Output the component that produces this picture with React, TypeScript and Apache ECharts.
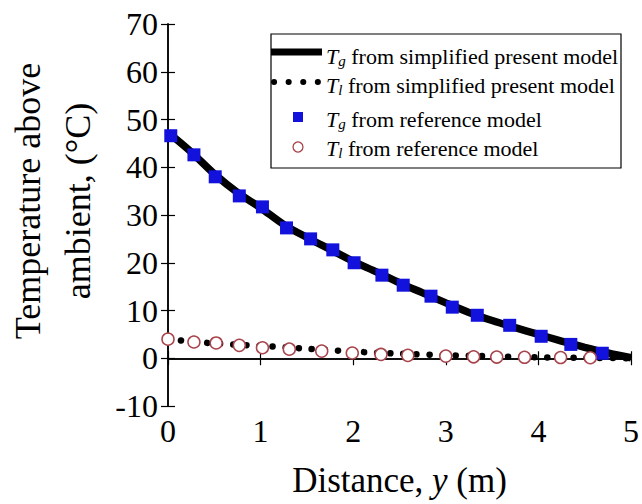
import React, { useEffect, useRef } from "react";
import * as echarts from "echarts";

const FONT = "Liberation Serif, Times New Roman, serif";

// Axis ranges / ticks
const xMin = 0;
const xMax = 5;
const xStep = 1;
const yMin = -10;
const yMax = 70;
const yStep = 10;

// Tg from simplified present model (solid line)
const xModelG = [0, 0.25, 0.5, 0.75, 1, 1.25, 1.5, 1.75, 2, 2.25, 2.5, 2.75, 3, 3.25, 3.5, 3.75, 4, 4.25, 4.5, 4.75, 5];
const yModelG = [47.3, 43.2, 38.6, 34.7, 31.5, 28.0, 25.3, 22.8, 20.3, 18.1, 15.8, 13.7, 11.6, 9.6, 7.9, 6.4, 5.0, 3.6, 2.3, 1.1, 0.1];

// Tl from simplified present model (dotted line)
const xModelL = [0, 0.5, 1, 1.5, 2, 2.5, 3, 3.5, 4, 4.5, 5];
const yModelL = [4.0, 3.1, 2.6, 2.0, 1.4, 0.95, 0.65, 0.4, 0.2, 0.1, 0];

// Tg from reference model (blue squares)
const xRefG = [0.03, 0.28, 0.51, 0.77, 1.02, 1.28, 1.54, 1.78, 2.01, 2.31, 2.54, 2.84, 3.07, 3.34, 3.69, 4.03, 4.35, 4.69];
const yRefG = [46.6, 42.6, 38.0, 34.0, 31.7, 27.3, 25.0, 22.7, 20.0, 17.4, 15.3, 13.0, 10.7, 9.0, 6.9, 4.6, 2.9, 1.05];

// Tl from reference model (red circles)
const xRefL = [0, 0.28, 0.52, 0.77, 1.02, 1.31, 1.66, 1.99, 2.3, 2.59, 3.0, 3.3, 3.55, 3.85, 4.24, 4.56];
const yRefL = [4.0, 3.4, 3.2, 2.7, 2.2, 1.9, 1.5, 1.1, 0.8, 0.6, 0.45, 0.3, 0.25, 0.2, 0.15, 0.1];

const legendRest = ["from simplified present model", "from simplified present model", "from reference model", "from reference model"];
const legendSub = ["g", "l", "g", "l"];

const zip = (xs: number[], ys: number[]) => xs.map((x, i) => [x, ys[i]]);

export default function App() {
  const ref = useRef<HTMLDivElement>(null);
  useEffect(() => {
    if (!ref.current) return;
    const chart = echarts.init(ref.current, null, { renderer: "svg" });
    const axisLine = { show: true, lineStyle: { color: "#000", width: 1.5 } };
    const tickIn = { show: true, inside: true, length: 7, lineStyle: { color: "#000", width: 1.2 } };
    const labelStyle = { color: "#000", fontFamily: FONT, fontSize: 32 };
    const rich = {
      t: { fontFamily: FONT, fontSize: 22, fontStyle: "italic", color: "#000", lineHeight: 25, verticalAlign: "middle" },
      s: { fontFamily: FONT, fontSize: 15, fontStyle: "italic", color: "#000", lineHeight: 15, verticalAlign: "bottom" },
      n: { fontFamily: FONT, fontSize: 22, color: "#000", lineHeight: 25, verticalAlign: "middle" },
    };
    const rowY = [56, 85, 119, 148];
    const symY = [52, 82, 117, 147];
    const legendTexts = legendRest.map((r, i) => ({
      type: "text",
      x: 326,
      y: rowY[i],
      style: {
        text: `{t|T}{s|${legendSub[i]}}{n| ${r}}`,
        rich,
        textAlign: "left",
        textVerticalAlign: "middle",
        verticalAlign: "middle",
      },
    }));
    chart.setOption({
      animation: false,
      backgroundColor: "#fff",
      textStyle: { fontFamily: FONT },
      grid: { left: 168, right: 6, top: 24, bottom: 98, containLabel: false },
      xAxis: [
        {
          type: "value",
          min: xMin,
          max: xMax,
          interval: xStep,
          position: "bottom",
          axisLine,
          axisTick: tickIn,
          splitLine: { show: false },
          axisLabel: { ...labelStyle, margin: 9 },
          name: "{n|Distance, }{i|y}{n| (m)}",
          nameLocation: "middle",
          nameGap: 57,
          nameTextStyle: {
            fontFamily: FONT,
            rich: {
              n: { fontFamily: FONT, fontSize: 35, color: "#000" },
              i: { fontFamily: FONT, fontSize: 35, fontStyle: "italic", color: "#000" },
            },
          },
        },
        {
          type: "value",
          min: xMin,
          max: xMax,
          interval: xStep,
          position: "top",
          axisLine,
          axisTick: tickIn,
          splitLine: { show: false },
          axisLabel: { show: false },
        },
      ],
      yAxis: [
        {
          type: "value",
          min: yMin,
          max: yMax,
          interval: yStep,
          position: "left",
          axisLine,
          axisTick: tickIn,
          splitLine: { show: false },
          axisLabel: { ...labelStyle, margin: 10 },
        },
        {
          type: "value",
          min: yMin,
          max: yMax,
          interval: yStep,
          position: "right",
          axisLine,
          axisTick: tickIn,
          splitLine: { show: false },
          axisLabel: { show: false },
        },
      ],
      series: [
        {
          name: "Tg from simplified present model",
          type: "line",
          data: zip(xModelG, yModelG),
          symbol: "none",
          smooth: 0.3,
          lineStyle: { color: "#000", width: 7.5 },
          z: 2,
        },
        {
          name: "Tl from simplified present model",
          type: "line",
          data: zip(xModelL, yModelL),
          symbol: "none",
          smooth: 0.3,
          lineStyle: { color: "#000", width: 6.5, type: [0.1, 13], cap: "round" },
          z: 2,
        },
        {
          name: "Tg from reference model",
          type: "scatter",
          data: zip(xRefG, yRefG),
          symbol: "rect",
          symbolSize: 13,
          itemStyle: { color: "#1212DC", opacity: 1 },
          clip: false,
          z: 3,
        },
        {
          name: "Tl from reference model",
          type: "scatter",
          data: zip(xRefL, yRefL),
          symbol: "circle",
          symbolSize: 12,
          itemStyle: { color: "#fff", borderColor: "#A8444C", borderWidth: 1.5, opacity: 1 },
          clip: false,
          z: 3,
        },
      ],
      graphic: [
        {
          type: "text",
          x: 53,
          y: 201,
          rotation: Math.PI / 2,
          style: {
            text: "Temperature above\nambient, (°C)",
            fontFamily: FONT,
            fontSize: 36,
            lineHeight: 50,
            fill: "#000",
            textAlign: "center",
            textVerticalAlign: "middle",
            verticalAlign: "middle",
          },
        },
        {
          type: "group",
          z: 100,
          children: [
            {
              type: "rect",
              shape: { x: 271, y: 34, width: 350, height: 134 },
              style: { fill: "#fff", stroke: "#000", lineWidth: 1.2 },
            },
            {
              type: "line",
              shape: { x1: 271, y1: symY[0], x2: 322, y2: symY[0] },
              style: { stroke: "#000", lineWidth: 7 },
            },
            {
              type: "line",
              shape: { x1: 274, y1: symY[1], x2: 318, y2: symY[1] },
              style: { stroke: "#000", lineWidth: 6, lineDash: [0.1, 14.5], lineCap: "round" },
            },
            {
              type: "rect",
              shape: { x: 293, y: symY[2] - 5, width: 10, height: 10 },
              style: { fill: "#1212DC" },
            },
            {
              type: "circle",
              shape: { cx: 298, cy: symY[3], r: 5 },
              style: { fill: "#fff", stroke: "#A8444C", lineWidth: 1.3 },
            },
            ...legendTexts,
          ],
        },
      ],
    });
    return () => chart.dispose();
  }, []);
  return (
    <div
      ref={ref}
      style={{ position: "fixed", left: 0, top: 0, width: 642, height: 504, background: "#fff" }}
    />
  );
}
